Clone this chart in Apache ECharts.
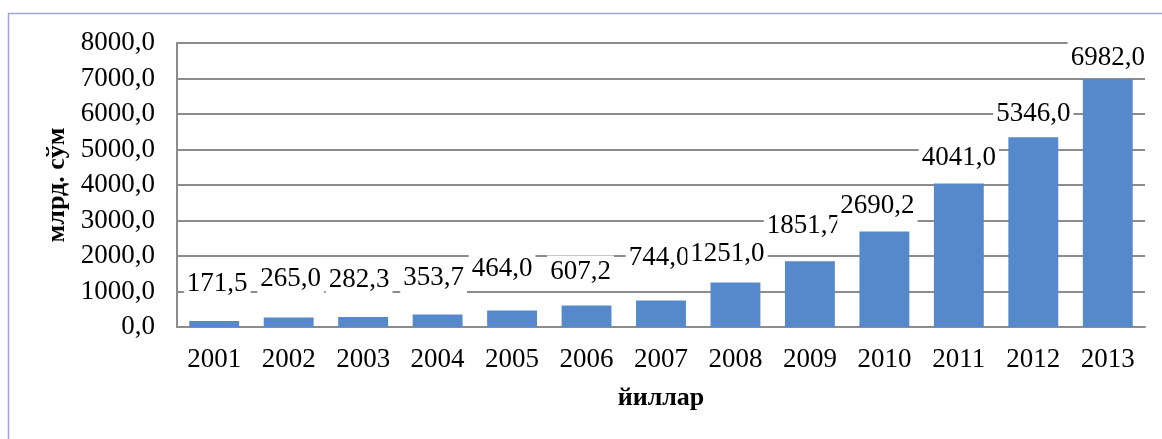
<!DOCTYPE html>
<html>
<head>
<meta charset="utf-8">
<script src="https://cdn.jsdelivr.net/npm/echarts@6/dist/echarts.min.js"></script>
<style>
html,body{margin:0;padding:0;background:#fff;}
#main{width:1162px;height:439px;}
</style>
</head>
<body>
<div id="main"></div>
<script>
// данные
var years = ['2001','2002','2003','2004','2005','2006','2007','2008','2009','2010','2011','2012','2013'];
var values = [171.5, 265.0, 282.3, 353.7, 464.0, 607.2, 744.0, 1251.0, 1851.7, 2690.2, 4041.0, 5346.0, 6982.0];
var yTicks = [0, 1000, 8000]; // min, interval, max

// сдвиг подписей (как в исходнике подписи подняты вручную)
var labelShift = [[3,-14],[2,-15],[-4,-14],[-4,-13],[-10,-18],[-6,-10],[-2,-19],[-8,-5],[-6,-12],[-7,-2],[0,-2],[0,0],[0,2]];

function fmt(v){
	return v.toFixed(1).replace('.', ',');
}

var myChart = echarts.init(document.getElementById('main'));

var barData = [];
for (var i = 0; i < values.length; i++) {
	barData.push({
		value: values[i],
		label: {offset: labelShift[i]}
	});
}

var font = '"Liberation Serif", "Times New Roman", serif';

var option = {
	animation: false,
	graphic: [{
		type: 'rect',
		shape: {x: 8.5, y: 13.5, width: 1300, height: 600},
		style: {fill: 'none', stroke: '#9ea6d6', lineWidth: 1.5}
	}],
	grid: {
		left: 177,
		right: 17,
		top: 43,
		bottom: 112
	},
	xAxis: {
		type: 'category',
		data: years,
		name: 'йиллар',
		nameLocation: 'middle',
		nameGap: 58,
		nameTextStyle: {fontFamily: font, fontWeight: 'bold', fontSize: 26, color: '#000'},
		axisLine: {lineStyle: {color: '#8c8c8c', width: 2}},
		axisTick: {show: false},
		axisLabel: {fontFamily: font, fontSize: 27, color: '#000', margin: 19}
	},
	yAxis: {
		type: 'value',
		min: yTicks[0],
		interval: yTicks[1],
		max: yTicks[2],
		name: 'млрд. сўм',
		nameLocation: 'middle',
		nameGap: 107,
		nameTextStyle: {fontFamily: font, fontWeight: 'bold', fontSize: 26, color: '#000'},
		axisLine: {show: true, lineStyle: {color: '#8c8c8c', width: 2}},
		axisTick: {show: false},
		splitLine: {lineStyle: {color: '#8c8c8c', width: 2}},
		axisLabel: {
			fontFamily: font, fontSize: 27, color: '#000', margin: 22,
			formatter: function(v){ return fmt(v); }
		}
	},
	series: [{
		type: 'bar',
		data: barData,
		barWidth: '67%',
		itemStyle: {color: '#5589cb'},
		label: {
			show: true,
			position: 'top',
			distance: 7,
			fontFamily: font,
			fontSize: 27,
			color: '#000',
			backgroundColor: '#fff',
			padding: [3, 3],
			formatter: function(p){ return fmt(p.value); }
		}
	}]
};

myChart.setOption(option);
</script>
</body>
</html>
